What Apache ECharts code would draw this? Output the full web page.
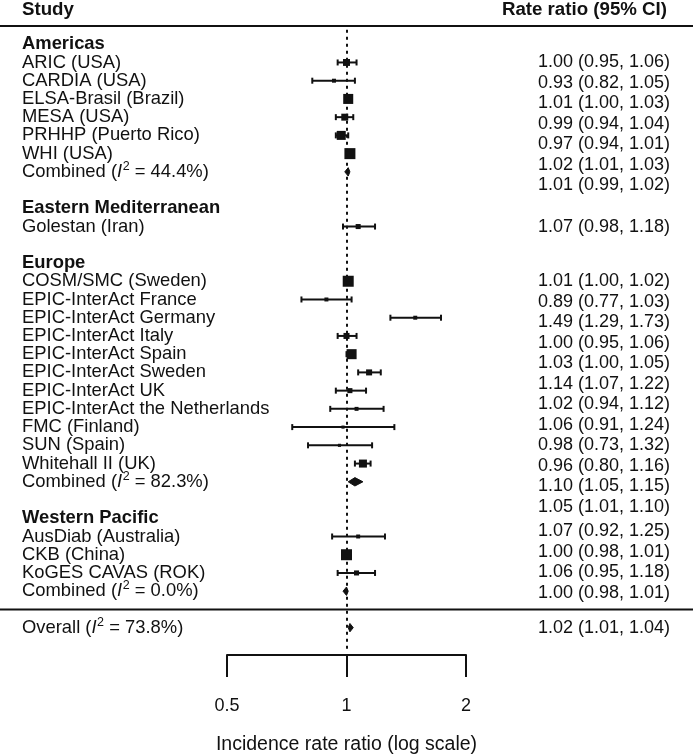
<!DOCTYPE html>
<html>
<head>
<meta charset="utf-8">
<script src="https://cdn.jsdelivr.net/npm/echarts@6/dist/echarts.min.js"></script>
<style>
html,body{margin:0;padding:0;background:#fff;}
#chart{width:693px;height:756px;}
</style>
</head>
<body>
<div id="chart"></div>
<script>
// ---------------- DATA ----------------
const regionNames = ['Americas', 'Eastern Mediterranean', 'Europe', 'Western Pacific'];
const studyNames = [
  'ARIC (USA)', 'CARDIA (USA)', 'ELSA-Brasil (Brazil)', 'MESA (USA)', 'PRHHP (Puerto Rico)', 'WHI (USA)',
  'Golestan (Iran)',
  'COSM/SMC (Sweden)', 'EPIC-InterAct France', 'EPIC-InterAct Germany', 'EPIC-InterAct Italy',
  'EPIC-InterAct Spain', 'EPIC-InterAct Sweden', 'EPIC-InterAct UK', 'EPIC-InterAct the Netherlands',
  'FMC (Finland)', 'SUN (Spain)', 'Whitehall II (UK)',
  'AusDiab (Australia)', 'CKB (China)', 'KoGES CAVAS (ROK)'
];
const studyRegion = [0,0,0,0,0,0, 1, 2,2,2,2,2,2,2,2,2,2,2, 3,3,3];
const rateRatio = [1.00,0.93,1.01,0.99,0.97,1.02, 1.07, 1.01,0.89,1.49,1.00,1.03,1.14,1.02,1.06,0.98,0.96,1.10, 1.07,1.00,1.06];
const ciLower   = [0.95,0.82,1.00,0.94,0.94,1.01, 0.98, 1.00,0.77,1.29,0.95,1.00,1.07,0.94,0.91,0.73,0.80,1.05, 0.92,0.98,0.95];
const ciUpper   = [1.06,1.05,1.03,1.04,1.01,1.03, 1.18, 1.02,1.03,1.73,1.06,1.05,1.22,1.12,1.24,1.32,1.16,1.15, 1.25,1.01,1.18];
const studyWeight = [40,13,83,40,67,100, 21, 100,13,13,30,83,30,21,13,8,8,53, 13,100,21];
const regionI2        = [44.4, null, 82.3, 0.0];
const regionRateRatio = [1.01, null, 1.05, 1.00];
const regionLower     = [0.99, null, 1.01, 0.98];
const regionUpper     = [1.02, null, 1.10, 1.01];
const overallI2 = 73.8;
const overallRateRatio = 1.02;
const overallLower = 1.01;
const overallUpper = 1.04;
const xTickValues = [0.5, 1, 2];
const headerLeft = 'Study';
const headerRight = 'Rate ratio (95% CI)';
const xAxisTitle = 'Incidence rate ratio (log scale)';

// ---------------- LAYOUT ----------------
const FONT = '"Liberation Sans", Arial, Helvetica, sans-serif';
const INK = '#111111';
const FS_LABEL = 18.4, FS_HEAD = 18.7, FS_VALUE = 18, FS_TICK = 18, FS_TITLE = 19.5, FS_SUP = 12.5;
const L = {
  gridLeft: 227, gridWidth: 239, gridTop: 26, gridHeight: 629,
  rowMin: -1, rowMax: 33.5, headerRow: -1.88,
  labelX: 22, valueRight: 670, headRight: 667, valuePitch: 20.5,
  valueShift: [0, 0, 0, -5, 0],
  squareMax: 11, capHalf: 3, diamondHalf: 4.2, lineW: 2,
  refTop: -0.8, refBottom: 33.2, supRaise: 5.5
};

// text width measurement for the I^2 composition
const mctx = document.createElement('canvas').getContext('2d');
function textW(t, size, style) {
  mctx.font = (style || '') + ' ' + size + 'px ' + FONT;
  return mctx.measureText(t).width;
}

// ---------------- BUILD ROWS ----------------
const forest = [];
const labels = [];
const values = [];
const fmt = (a, b, c) => a.toFixed(2) + ' (' + b.toFixed(2) + ', ' + c.toFixed(2) + ')';
let r = 0;
regionNames.forEach((name, g) => {
  labels.push({ row: r, kind: 'header', text: name });
  r++;
  const first = r;
  let k = 0;
  studyNames.forEach((s, i) => {
    if (studyRegion[i] !== g) return;
    labels.push({ row: r, kind: 'study', text: s });
    forest.push({ row: r, kind: 'study', rr: rateRatio[i], lo: ciLower[i], hi: ciUpper[i], w: studyWeight[i] });
    values.push({ first: first, k: k++, shift: L.valueShift[g], text: fmt(rateRatio[i], ciLower[i], ciUpper[i]) });
    r++;
  });
  if (regionRateRatio[g] != null) {
    labels.push({ row: r, kind: 'i2', text: 'Combined', i2: regionI2[g] });
    forest.push({ row: r, kind: 'combined', rr: regionRateRatio[g], lo: regionLower[g], hi: regionUpper[g] });
    values.push({ first: first, k: k++, shift: L.valueShift[g], text: fmt(regionRateRatio[g], regionLower[g], regionUpper[g]) });
    r++;
  }
  if (g < regionNames.length - 1) r++;
});
const sepRow = r; r++;
labels.push({ row: r, kind: 'i2', text: 'Overall', i2: overallI2 });
forest.push({ row: r, kind: 'combined', rr: overallRateRatio, lo: overallLower, hi: overallUpper });
values.push({ first: r, k: 0, shift: L.valueShift[4], text: fmt(overallRateRatio, overallLower, overallUpper) });

function txt(x, y, text, size, extra) {
  return { type: 'text', x: x, y: y,
    style: Object.assign({ text: text, fontFamily: FONT, fontSize: size, fill: INK, align: 'left', verticalAlign: 'middle' }, extra || {}) };
}

// ---------------- CHART ----------------
const chart = echarts.init(document.getElementById('chart'), null, { renderer: 'canvas' });
chart.setOption({
  animation: false,
  backgroundColor: '#ffffff',
  grid: { left: L.gridLeft, width: L.gridWidth, top: L.gridTop, height: L.gridHeight, containLabel: false, outerBoundsMode: 'none' },
  xAxis: {
    type: 'log', logBase: 2, min: xTickValues[0], max: xTickValues[xTickValues.length - 1],
    splitLine: { show: false },
    axisLine: { show: true, onZero: false, lineStyle: { color: INK, width: 2 } },
    axisTick: { show: true, inside: false, length: 22, lineStyle: { color: INK, width: 2 } },
    axisLabel: { show: true, margin: 42, color: INK, fontSize: FS_TICK, fontFamily: FONT, formatter: v => String(+(+v).toFixed(2)) },
    name: xAxisTitle, nameLocation: 'middle', nameGap: 80,
    nameTextStyle: { color: INK, fontSize: FS_TITLE, fontFamily: FONT }
  },
  yAxis: { type: 'value', inverse: true, min: L.rowMin, max: L.rowMax, show: false },
  series: [
    {
      name: 'rules', type: 'custom', silent: true,
      data: [[1, L.rowMin], [1, sepRow]],
      renderItem: (params, api) => {
        const y = api.coord([1, api.value(1)])[1];
        return { type: 'line', shape: { x1: 0, y1: y, x2: api.getWidth(), y2: y }, style: { stroke: INK, lineWidth: 2 } };
      }
    },
    {
      name: 'forest', type: 'custom', silent: true,
      data: forest.map(d => [d.rr, d.row]),
      renderItem: (params, api) => {
        const d = forest[params.dataIndex];
        const y = api.coord([d.rr, d.row])[1];
        const xl = api.coord([d.lo, d.row])[0];
        const xh = api.coord([d.hi, d.row])[0];
        const xm = api.coord([d.rr, d.row])[0];
        if (d.kind === 'study') {
          const s = L.squareMax * Math.sqrt(d.w / 100);
          const st = { stroke: INK, lineWidth: L.lineW };
          return { type: 'group', children: [
            { type: 'line', shape: { x1: xl, y1: y, x2: xh, y2: y }, style: st },
            { type: 'line', shape: { x1: xl, y1: y - L.capHalf, x2: xl, y2: y + L.capHalf }, style: st },
            { type: 'line', shape: { x1: xh, y1: y - L.capHalf, x2: xh, y2: y + L.capHalf }, style: st },
            { type: 'rect', shape: { x: xm - s / 2, y: y - s / 2, width: s, height: s }, style: { fill: INK } }
          ]};
        }
        return { type: 'polygon', shape: { points: [[xl, y], [xm, y - L.diamondHalf], [xh, y], [xm, y + L.diamondHalf]] },
                 style: { fill: INK, stroke: INK, lineWidth: 1 } };
      },
      markLine: {
        silent: true, symbol: 'none', label: { show: false },
        lineStyle: { color: INK, width: 2, type: [3, 4] },
        data: [[{ coord: [1, L.refTop] }, { coord: [1, L.refBottom] }]]
      }
    },
    {
      name: 'labels', type: 'custom', silent: true,
      data: labels.map(d => [1, d.row]).concat([[1, L.headerRow], [1, L.headerRow]]),
      renderItem: (params, api) => {
        const i = params.dataIndex;
        const y = api.coord([1, api.value(1)])[1];
        if (i === labels.length) return txt(L.labelX, y, headerLeft, FS_HEAD, { fontWeight: 'bold' });
        if (i === labels.length + 1) return txt(L.headRight, y, headerRight, FS_HEAD, { fontWeight: 'bold', align: 'right' });
        const d = labels[i];
        if (d.kind === 'header') return txt(L.labelX, y, d.text, FS_LABEL, { fontWeight: 'bold' });
        if (d.kind === 'study') return txt(L.labelX, y, d.text, FS_LABEL);
        const p1 = d.text + ' (';
        const p4 = ' = ' + d.i2.toFixed(1) + '%)';
        const x2 = L.labelX + textW(p1, FS_LABEL);
        const x3 = x2 + textW('I', FS_LABEL, 'italic') + 0.5;
        const x4 = x3 + textW('2', FS_SUP);
        return { type: 'group', children: [
          txt(L.labelX, y, p1, FS_LABEL),
          txt(x2, y, 'I', FS_LABEL, { fontStyle: 'italic' }),
          txt(x3, y - L.supRaise, '2', FS_SUP),
          txt(x4, y, p4, FS_LABEL)
        ]};
      }
    },
    {
      name: 'values', type: 'custom', silent: true,
      data: values.map(d => [1, d.first]),
      renderItem: (params, api) => {
        const d = values[params.dataIndex];
        const y = api.coord([1, d.first])[1] + d.k * L.valuePitch + d.shift;
        return txt(L.valueRight, y, d.text, FS_VALUE, { align: 'right' });
      }
    }
  ]
});
</script>
</body>
</html>
